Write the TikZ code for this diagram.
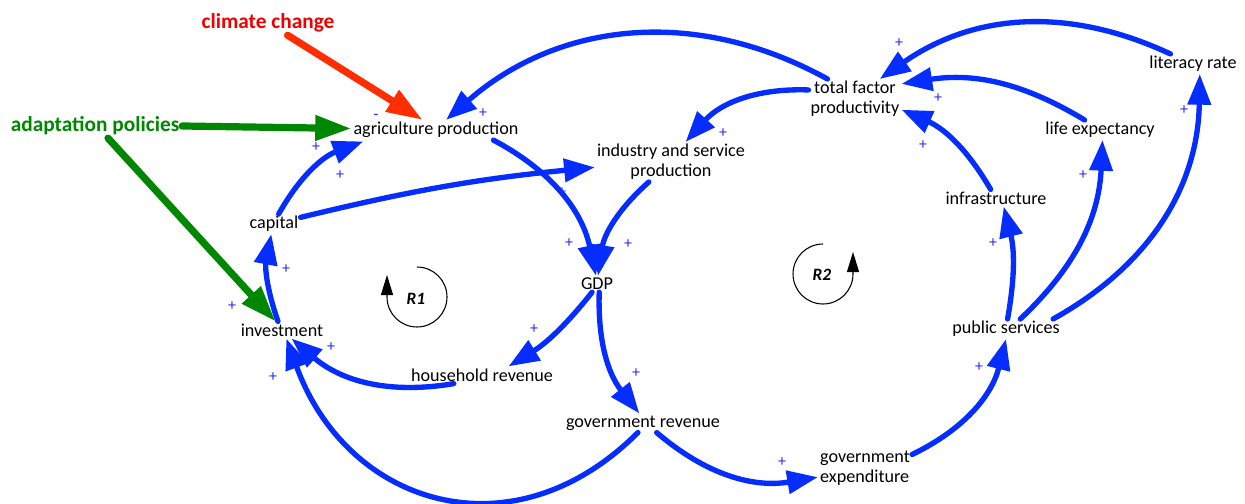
\documentclass[tikz,border=0pt]{standalone}
\usepackage{fontspec}
\setmainfont{Carlito}
\usetikzlibrary{arrows.meta}
\definecolor{linkblue}{RGB}{5,45,255}
\definecolor{signblue}{RGB}{40,40,255}
\definecolor{climred}{RGB}{255,45,0}
\definecolor{climtext}{RGB}{240,0,0}
\definecolor{adaptgreen}{RGB}{0,135,0}

\begin{document}
\begin{tikzpicture}[x=0.75pt,y=0.75pt,
  var/.style={font=\fontsize{13.6}{15}\selectfont,align=center,inner sep=1.5pt},
  driver/.style={font=\fontsize{16}{18}\selectfont\bfseries,inner sep=2pt},
  link/.style={draw=linkblue,line width=4pt,line cap=round,
    -{Triangle[length=23pt,width=17pt]}},
  push/.style={line width=5.4pt,line cap=round,
    -{Triangle[length=27pt,width=18pt]}},
  sign/.style={font=\fontsize{12}{12}\selectfont,text=signblue,inner sep=0pt},
  loopname/.style={font=\fontsize{13}{15}\selectfont\bfseries\itshape},
  looparr/.style={line width=0.8pt,-{Triangle[length=15pt,width=9pt]}}
]
\useasboundingbox (0,0) rectangle (1245,-503);

% exogenous drivers
\node[driver,text=climtext] (climate) at (268,-23) {climate change};
\node[driver,text=adaptgreen] (adapt) at (95,-126) {adaptation policies};

% variables
\node[var] (agri) at (436,-130) {agriculture production};
\node[var] (industry) at (671,-162) {industry and service\\production};
\node[var] (tfp) at (855,-99) {total factor\\productivity};
\node[var] (literacy) at (1193,-64) {literacy rate};
\node[var] (life) at (1100,-130) {life expectancy};
\node[var] (infra) at (996,-198) {infrastructure};
\node[var] (capital) at (274,-224) {capital};
\node[var] (gdp) at (597,-284) {GDP};
\node[var] (invest) at (282,-330) {investment};
\node[var] (ps) at (1006,-329) {public services};
\node[var] (household) at (482,-375) {household revenue};
\node[var] (govrev) at (643,-423) {government revenue};
\node[var,align=left] (govexp) at (865,-468) {government\\expenditure};

% loop markers
\node[loopname] (r1) at (416,-299) {R1};
\node[loopname] (r2) at (822,-275) {R2};
\draw[looparr] (r1) ++(1,32) arc[start angle=90,end angle=-180,radius=30] -- ++(0,22);
\draw[looparr] (r2) ++(1,31) arc[start angle=90,end angle=360,radius=30] -- ++(0,22);

% external influences
\draw[push,climred] (climate.-32) -- (agri.143);
\draw[push,adaptgreen] (adapt.0) -- (agri.179);
\draw[push,adaptgreen] (adapt.-43) -- (invest.127);

% causal links
\draw[link] (capital.65) to[bend left=20] ([xshift=9pt,yshift=-1pt]agri.south west);
\draw[link] (capital.14) to[bend left=4] (industry.-176);
\draw[link] (agri.-10) to[bend left=25] (gdp.97);
\draw[link] (industry.-138) to[bend right=20] (gdp.83);
\draw[link] (gdp.-121) to[bend left=10] (household.18);
\draw[link] (gdp.-75) to[bend right=20] (govrev.111);
\draw[link] (household.-163) to[bend left=25] (invest.-42);
\draw[link] (govrev.-118) to[out=-135,in=-70,looseness=1.25] (invest.-63);
\draw[link] (invest.115) to[bend left=15] (capital.-105);
\draw[link] (govrev.-35) to[bend right=25] (govexp.-169);
\draw[link] (govexp.16) to[bend right=25] (ps.-90);
\draw[link] (ps.81) to[bend right=12] (infra.-48);
\draw[link] (ps.35) to[bend right=22] (life.-76);
\draw[link] (ps.12) to[bend right=30] (literacy.-56);
\draw[link] (infra.122) to[bend right=18] (tfp.-13);
\draw[link] (life.147) to[bend right=20] (tfp.18);
\draw[link] (literacy.156) to[bend right=30] (tfp.39);
\draw[link] (tfp.144) to[bend right=35] (agri.45);
\draw[link] (tfp.169) to[bend right=25] (industry.54);

% polarities
\node[sign] (minus) at (376,-117) {-};
\foreach \px/\py [count=\i] in {483/113,316/147,340/175,562/192,569/243,
    628/244,723/133,899/43,938/98,923/145,1184/110,1083/175,993/243,
    286/269,232/306,331/347,273/377,534/329,636/373,782/462,979/367}
  \node[sign] (plus\i) at (\px,-\py) {+};
\end{tikzpicture}
\end{document}
